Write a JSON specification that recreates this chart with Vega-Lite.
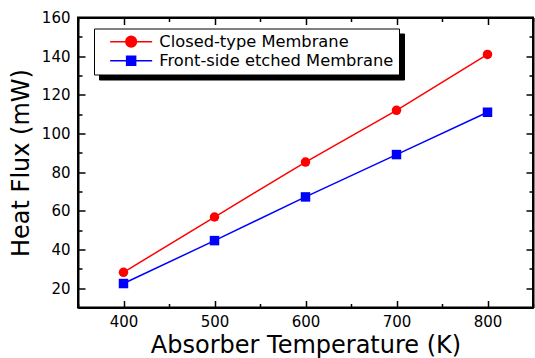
{
  "$schema": "https://vega.github.io/schema/vega-lite/v6.json",
  "width": 455,
  "height": 290,
  "autosize": {"type": "none"},
  "padding": {"left": 78, "top": 17.5, "right": 2, "bottom": 50},
  "background": "white",
  "data": {
    "values": [
      {"temp": 400, "flux": 28.2, "series": "Closed-type Membrane"},
      {"temp": 500, "flux": 56.8, "series": "Closed-type Membrane"},
      {"temp": 600, "flux": 85.2, "series": "Closed-type Membrane"},
      {"temp": 700, "flux": 112.0, "series": "Closed-type Membrane"},
      {"temp": 800, "flux": 140.9, "series": "Closed-type Membrane"},
      {"temp": 400, "flux": 22.4, "series": "Front-side etched Membrane"},
      {"temp": 500, "flux": 44.6, "series": "Front-side etched Membrane"},
      {"temp": 600, "flux": 67.2, "series": "Front-side etched Membrane"},
      {"temp": 700, "flux": 89.1, "series": "Front-side etched Membrane"},
      {"temp": 800, "flux": 111.0, "series": "Front-side etched Membrane"}
    ]
  },
  "config": {
    "font": "DejaVu Sans",
    "view": {"stroke": "black", "strokeWidth": 2},
    "axis": {
      "domainColor": "black",
      "domainWidth": 2,
      "tickColor": "black",
      "tickWidth": 1.5,
      "labelColor": "black",
      "labelFont": "DejaVu Sans",
      "labelFontSize": 15,
      "titleFont": "DejaVu Sans",
      "titleFontSize": 24,
      "titleFontWeight": "normal",
      "titleColor": "black",
      "grid": false
    },
    "legend": {
      "title": null,
      "orient": "none",
      "padding": 5,
      "symbolSize": 100,
      "symbolOffset": 24,
      "labelOffset": 20,
      "labelFont": "DejaVu Sans",
      "labelFontSize": 16.3,
      "labelLimit": 400,
      "rowPadding": 2,
      "symbolStrokeWidth": 1.5
    }
  },
  "resolve": {"axis": {"x": "independent", "y": "independent"}},
  "layer": [
    {
      "mark": {"type": "line", "strokeWidth": 1.5},
      "encoding": {
        "x": {
          "field": "temp", "type": "quantitative",
          "scale": {"domain": [350, 850], "nice": false, "zero": false},
          "axis": {
            "orient": "bottom",
            "title": "Absorber Temperature (K)",
            "values": [350, 400, 450, 500, 550, 600, 650, 700, 750, 800, 850],
            "labelExpr": "datum.value % 100 === 0 ? datum.label : ''",
            "tickSize": {"condition": {"test": "datum.value % 100 === 0", "value": -7}, "value": -4},
            "labelPadding": 14,
            "titlePadding": 4
          }
        },
        "y": {
          "field": "flux", "type": "quantitative",
          "scale": {"domain": [10, 160], "nice": false, "zero": false},
          "axis": {
            "orient": "left",
            "title": "Heat Flux (mW)",
            "values": [10, 20, 30, 40, 50, 60, 70, 80, 90, 100, 110, 120, 130, 140, 150, 160],
            "labelExpr": "datum.value % 20 === 0 ? datum.label : ''",
            "tickSize": {"condition": {"test": "datum.value % 20 === 0", "value": -7}, "value": -4},
            "labelPadding": 15,
            "titlePadding": 8
          }
        },
        "color": {
          "field": "series", "type": "nominal",
          "scale": {"domain": ["Closed-type Membrane", "Front-side etched Membrane"], "range": ["#ff0000", "#0000ff"]},
          "legend": {
            "legendX": 16,
            "legendY": 11,
            "zindex": 2,
            "strokeColor": "black",
            "fillColor": "white",
            "labelColor": "black",
            "encode": {
              "symbols": {
                "update": {
                  "shape": {"signal": "datum.value === 'Closed-type Membrane' ? 'M-4.2,0L4.2,0M1.06,0A1.06,1.06,0,1,1,-1.06,0A1.06,1.06,0,1,1,1.06,0Z' : 'M-4.2,0L4.2,0M-0.9,-0.9L0.9,-0.9L0.9,0.9L-0.9,0.9Z'"},
                  "fill": {"scale": "color", "field": "value"},
                  "stroke": {"scale": "color", "field": "value"},
                  "fillOpacity": {"value": 1},
                  "strokeWidth": {"value": 1.5}
                }
              }
            }
          }
        }
      }
    },
    {
      "transform": [{"filter": "datum.series === 'Closed-type Membrane'"}],
      "mark": {"type": "point", "filled": true, "size": 90, "opacity": 1, "shape": "circle", "color": "#ff0000"},
      "encoding": {
        "x": {
          "field": "temp", "type": "quantitative",
          "axis": {
            "orient": "top", "title": null, "labels": false,
            "values": [350, 400, 450, 500, 550, 600, 650, 700, 750, 800, 850],
            "tickSize": {"condition": {"test": "datum.value % 100 === 0", "value": -7}, "value": -4}
          }
        },
        "y": {
          "field": "flux", "type": "quantitative",
          "axis": {
            "orient": "right", "title": null, "labels": false,
            "values": [10, 20, 30, 40, 50, 60, 70, 80, 90, 100, 110, 120, 130, 140, 150, 160],
            "tickSize": {"condition": {"test": "datum.value % 20 === 0", "value": -7}, "value": -4}
          }
        }
      }
    },
    {
      "transform": [{"filter": "datum.series === 'Front-side etched Membrane'"}],
      "mark": {"type": "point", "filled": true, "size": 90, "opacity": 1, "color": "#0000ff"},
      "encoding": {
        "x": {"field": "temp", "type": "quantitative", "axis": null},
        "y": {"field": "flux", "type": "quantitative", "axis": null},
        "shape": {
          "field": "series", "type": "nominal",
          "scale": {"domain": ["Front-side etched Membrane", "Closed-type Membrane"], "range": ["square", "square"]},
          "legend": {
            "legendX": 21,
            "legendY": 16,
            "zindex": 1,
            "strokeColor": "black",
            "fillColor": "black",
            "labelColor": "black",
            "encode": {
              "symbols": {
                "update": {
                  "fill": {"value": "black"},
                  "stroke": {"value": "black"},
                  "strokeWidth": {"value": 1.5}
                }
              }
            }
          }
        }
      }
    }
  ]
}
